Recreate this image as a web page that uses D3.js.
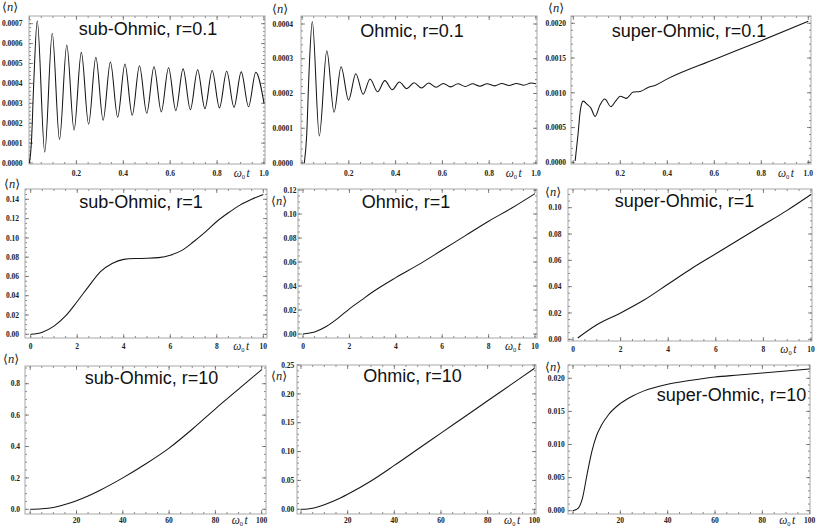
<!DOCTYPE html>
<html><head><meta charset="utf-8">
<script src="https://cdn.jsdelivr.net/npm/d3@7"></script>
<style>body{margin:0;background:#fff}svg{display:block}</style>
</head><body><svg id="c" width="818" height="530"></svg>
<script>
// ---------------- DATA ----------------
const titles = ["sub-Ohmic, r=0.1","Ohmic, r=0.1","super-Ohmic, r=0.1",
                "sub-Ohmic, r=1","Ohmic, r=1","super-Ohmic, r=1",
                "sub-Ohmic, r=10","Ohmic, r=10","super-Ohmic, r=10"];

const subOhmic01T = [0,0.008,0.018,0.033,0.065,0.097,0.128,0.159,0.19,0.221,0.252,0.283,0.314,0.345,0.376,0.407,0.438,0.469,0.5,0.531,0.562,0.593,0.624,0.655,0.686,0.717,0.748,0.779,0.81,0.841,0.872,0.903,0.934,0.965,1.0];
const subOhmic01N = [0,0.0001,0.0004,0.000715,0.000055,0.000652,0.000118,0.000593,0.000165,0.000556,0.000195,0.000531,0.000215,0.000508,0.00023,0.000497,0.00024,0.000489,0.00025,0.000484,0.000257,0.000479,0.000263,0.000473,0.000268,0.000469,0.000273,0.000465,0.000277,0.000461,0.00028,0.000458,0.000283,0.000456,0.0003];

const ohmic01T = [0.01,0.02,0.03,0.044,0.074,0.106,0.137,0.167,0.199,0.23,0.261,0.291,0.323,0.354,0.386,0.416,0.448,0.479,0.51,0.541,0.573,0.604,0.635,0.666,0.698,0.729,0.76,0.791,0.823,0.854,0.885,0.916,0.948,0.979,1.0];
const ohmic01N = [0,0.00008,0.00026,0.000407,0.000078,0.000323,0.000146,0.000277,0.000181,0.000257,0.000198,0.000242,0.000205,0.000237,0.000211,0.000233,0.000214,0.000231,0.000216,0.00023,0.000218,0.000229,0.000219,0.000228,0.00022,0.000228,0.000221,0.000228,0.000222,0.000229,0.000223,0.000229,0.000224,0.00023,0.000228];

const superOhmic01T = [0.008,0.02,0.03,0.042,0.06,0.075,0.093,0.113,0.134,0.16,0.18,0.2,0.225,0.255,0.285,0.32,0.35,0.4,0.6,0.8,1.0];
const superOhmic01N = [0.00002,0.0004,0.00075,0.00088,0.00083,0.00078,0.00066,0.00082,0.00091,0.0008,0.00088,0.00095,0.00092,0.00101,0.00102,0.00108,0.00111,0.0012,0.00148,0.00175,0.00203];

const subOhmic1T = [0,0.5,1,1.5,2,2.5,3,3.5,4,4.5,5,5.5,6,6.5,7,7.5,8,8.5,9,9.5,10];
const subOhmic1N = [0,0.0022,0.0085,0.019,0.034,0.05,0.065,0.0735,0.0777,0.0786,0.0788,0.0795,0.082,0.087,0.096,0.106,0.117,0.126,0.134,0.14,0.145];

const ohmic1T = [0,0.5,1,1.5,2,2.5,3,4,5,6,7,8,9,10];
const ohmic1N = [0,0.0016,0.0062,0.013,0.021,0.028,0.035,0.047,0.058,0.07,0.082,0.094,0.105,0.117];

const superOhmic1T = [0.2,1,2,3,4,5,6,7,8,9,10];
const superOhmic1N = [0.001,0.011,0.02,0.03,0.042,0.054,0.065,0.076,0.087,0.098,0.11];

const subOhmic10T = [0,5,10,15,20,25,30,40,50,60,70,80,90,100];
const subOhmic10N = [0,0.003,0.012,0.03,0.055,0.085,0.12,0.2,0.29,0.39,0.51,0.64,0.765,0.89];

const ohmic10T = [0,5,10,15,20,30,40,50,60,70,80,90,100];
const ohmic10N = [0,0.002,0.008,0.016,0.026,0.049,0.076,0.104,0.132,0.16,0.188,0.216,0.244];

const superOhmic10T = [0,2,4,6,8,10,12,15,20,25,30,40,50,60,70,80,90,100];
const superOhmic10N = [0,0.0003,0.0019,0.0056,0.009,0.0114,0.0129,0.0145,0.0162,0.0173,0.0181,0.0191,0.0197,0.0202,0.0205,0.0208,0.0211,0.0214];

const xTicks01 = [0,0.2,0.4,0.6,0.8,1.0];
const xTicks1  = [0,2,4,6,8,10];
const xTicks10 = [0,20,40,60,80,100];
const yTicksSub01 = [0,0.0001,0.0002,0.0003,0.0004,0.0005,0.0006,0.0007];
const yTicksOhm01 = [0,0.0001,0.0002,0.0003,0.0004];
const yTicksSup01 = [0,0.0005,0.001,0.0015,0.002];
const yTicksSub1  = [0,0.02,0.04,0.06,0.08,0.1,0.12,0.14];
const yTicksOhm1  = [0,0.02,0.04,0.06,0.08,0.1,0.12];
const yTicksSup1  = [0,0.02,0.04,0.06,0.08,0.1];
const yTicksSub10 = [0,0.2,0.4,0.6,0.8];
const yTicksOhm10 = [0,0.05,0.1,0.15,0.2,0.25];
const yTicksSup10 = [0,0.005,0.01,0.015,0.02];

// ---------------- LAYOUT ----------------
const panels = [
 {t:subOhmic01T,n:subOhmic01N,xt:xTicks01,yt:yTicksSub01,xf:".1f",yf:".4f",zeroX:false,xm:0.05,ym:0.00002,
  fr:[29,265,16,164],xd:[0,1],xr:[29.5,264],yd:[0,0.0007],yr:[163,23.7],ylx:22.5,xlb:176,title:[148,35],nl:[2,11]},
 {t:ohmic01T,n:ohmic01N,xt:xTicks01,yt:yTicksOhm01,xf:".1f",yf:".4f",zeroX:false,xm:0.05,ym:0.00002,
  fr:[301,537,16,164],xd:[0,1],xr:[302,536],yd:[0,0.0004],yr:[163,24],ylx:293,xlb:176,title:[412,37],nl:[272,13]},
 {t:superOhmic01T,n:superOhmic01N,xt:xTicks01,yt:yTicksSup01,xf:".1f",yf:".4f",zeroX:false,xm:0.05,ym:0.0001,
  fr:[571,811,16,164],xd:[0,1],xr:[573.3,808.3],yd:[0,0.002],yr:[162.3,23.3],ylx:566,xlb:176,title:[689,37],nl:[548,12]},
 {t:subOhmic1T,n:subOhmic1N,xt:xTicks1,yt:yTicksSub1,xf:"d",yf:".2f",zeroX:true,xm:0.5,ym:0.005,
  fr:[25,267,189,338],xd:[0,10],xr:[30.7,263.3],yd:[0,0.14],yr:[334.3,199.3],ylx:19,xlb:349,title:[141,208],nl:[4,188]},
 {t:ohmic1T,n:ohmic1N,xt:xTicks1,yt:yTicksOhm1,xf:"d",yf:".2f",zeroX:true,xm:0.5,ym:0.005,
  fr:[298,537,189,338],xd:[0,10],xr:[303,535],yd:[0,0.12],yr:[334,190],ylx:296.5,xlb:349,title:[406,208],nl:[271,205]},
 {t:superOhmic1T,n:superOhmic1N,xt:xTicks1,yt:yTicksSup1,xf:"d",yf:".2f",zeroX:true,xm:0.5,ym:0.005,
  fr:[568,812,189,341],xd:[0,10],xr:[573,811],yd:[0,0.1],yr:[339.3,207.7],ylx:561.5,xlb:352,title:[684.5,207],nl:[545,196]},
 {t:subOhmic10T,n:subOhmic10N,xt:xTicks10,yt:yTicksSub10,xf:"d",yf:".1f",zeroX:false,xm:5,ym:0.05,
  fr:[25,266,366,514],xd:[0,100],xr:[30.2,261.7],yd:[0,0.8],yr:[509.3,383.7],ylx:20,xlb:523,title:[151.5,384],nl:[3,363]},
 {t:ohmic10T,n:ohmic10N,xt:xTicks10,yt:yTicksOhm10,xf:"d",yf:".2f",zeroX:false,xm:5,ym:0.01,
  fr:[297,536,365,514],xd:[0,100],xr:[301,534.3],yd:[0,0.25],yr:[509.3,365],ylx:294.3,xlb:523,title:[412.5,382],nl:[271,380]},
 {t:superOhmic10T,n:superOhmic10N,xt:xTicks10,yt:yTicksSup10,xf:"d",yf:".3f",zeroX:false,xm:5,ym:0.001,
  fr:[568,810,365,514],xd:[0,100],xr:[573,809.7],yd:[0,0.02],yr:[510.7,378.3],ylx:564.7,xlb:523,title:[731.5,401],nl:[545,371]}
];

const svg = d3.select("#c");
const defs = svg.append("defs");
const tickFont = "'Liberation Serif','Times New Roman',serif";

panels.forEach((p,i)=>{
  const [l,r,t,b] = p.fr;
  const x = d3.scaleLinear().domain(p.xd).range(p.xr);
  const y = d3.scaleLinear().domain(p.yd).range(p.yr);
  const g = svg.append("g");
  const xInv = x.invert(l), xMax = x.invert(r);
  const yMin = y.invert(b), yMax = y.invert(t);

  // ticks (inward, on all four sides)
  const minorX = d3.range(0, xMax + 1e-9, p.xm).filter(v => v >= xInv && v <= xMax);
  const minorY = d3.range(0, yMax + 1e-12, p.ym).filter(v => v >= yMin && v <= yMax);
  const tk = g.append("g").attr("stroke","#555").attr("stroke-width",0.7);
  minorX.forEach(v=>{
    const X = x(v);
    tk.append("line").attr("x1",X).attr("x2",X).attr("y1",b).attr("y2",b-2);
    tk.append("line").attr("x1",X).attr("x2",X).attr("y1",t).attr("y2",t+2);
  });
  minorY.forEach(v=>{
    const Y = y(v);
    tk.append("line").attr("x1",l).attr("x2",l+2).attr("y1",Y).attr("y2",Y);
    tk.append("line").attr("x1",r).attr("x2",r-2).attr("y1",Y).attr("y2",Y);
  });
  p.xt.forEach(v=>{
    const X = x(v);
    tk.append("line").attr("x1",X).attr("x2",X).attr("y1",b).attr("y2",b-4);
    tk.append("line").attr("x1",X).attr("x2",X).attr("y1",t).attr("y2",t+4);
  });
  p.yt.forEach(v=>{
    const Y = y(v);
    tk.append("line").attr("x1",l).attr("x2",l+4).attr("y1",Y).attr("y2",Y);
    tk.append("line").attr("x1",r).attr("x2",r-4).attr("y1",Y).attr("y2",Y);
  });

  // frame
  g.append("rect").attr("x",l).attr("y",t).attr("width",r-l).attr("height",b-t)
    .attr("fill","none").attr("stroke","#a8a8a8").attr("stroke-width",1);

  // tick labels
  const fx = d3.format(p.xf), fy = d3.format(p.yf);
  const lastX = p.xt[p.xt.length-1];
  p.xt.forEach(v=>{
    if (v===0 && !p.zeroX) return;
    g.append("text").attr("x",x(v)).attr("y",p.xlb).attr("text-anchor","middle")
      .attr("font-family",tickFont).attr("font-size",7.5).attr("font-weight","bold").attr("fill","#222").text(fx(v));
  });
  p.yt.forEach(v=>{
    g.append("text").attr("x",p.ylx).attr("y",y(v)+2.7).attr("text-anchor","end")
      .attr("font-family",tickFont).attr("font-size",7.5).attr("font-weight","bold").attr("fill","#222").text(fy(v));
  });

  // axis label omega_0 t
  const wl = g.append("text").attr("x",x(lastX*0.905)).attr("y",p.xlb+1).attr("text-anchor","middle")
    .attr("font-family",tickFont).attr("font-size",11.5).attr("font-style","italic").attr("fill","#222");
  wl.append("tspan").text("ω");
  wl.append("tspan").attr("font-size",6.5).attr("dy",2).attr("font-style","normal").text("0");
  wl.append("tspan").attr("dy",-2).attr("dx",1.5).text("t");

  // <n> label
  const nl = g.append("text").attr("x",p.nl[0]).attr("y",p.nl[1])
    .attr("font-family","'Liberation Serif','DejaVu Serif',serif").attr("font-size",12.5).attr("fill","#222");
  nl.append("tspan").text("⟨");
  nl.append("tspan").attr("font-style","italic").text("n");
  nl.append("tspan").text("⟩");

  // curve
  const cid = "clip"+i;
  defs.append("clipPath").attr("id",cid).append("rect").attr("x",l).attr("y",t).attr("width",r-l).attr("height",b-t);
  const pts = p.t.map((tv,k)=>[tv,p.n[k]]);
  const line = d3.line().x(d=>x(d[0])).y(d=>y(d[1])).curve(d3.curveMonotoneX);
  g.append("path").attr("d",line(pts)).attr("fill","none").attr("stroke","#151515")
    .attr("stroke-width",1.05).attr("clip-path",`url(#${cid})`);

  // title
  g.append("text").attr("x",p.title[0]).attr("y",p.title[1]).attr("text-anchor","middle")
    .attr("font-family","'Liberation Sans',Arial,sans-serif").attr("font-size",18).attr("fill","#111")
    .text(titles[i]);
});
</script>
</body></html>
